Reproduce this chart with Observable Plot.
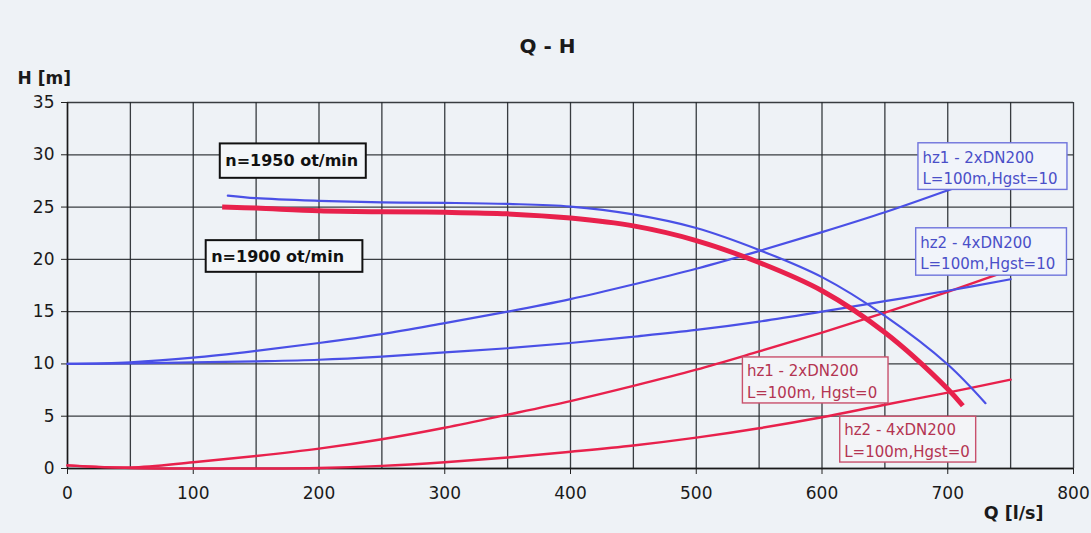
<!DOCTYPE html>
<html>
<head>
<meta charset="utf-8">
<script src="https://cdn.jsdelivr.net/npm/d3@7"></script>
<script src="https://cdn.jsdelivr.net/npm/@observablehq/plot@0.6"></script>
<style>
  html, body { margin: 0; padding: 0; background: #eef2f6; }
  #wrap { position: relative; width: 1091px; height: 533px; overflow: hidden; }
  #scanline { position: absolute; left: 0; top: 4px; width: 960px; height: 2px;
    background: linear-gradient(to right, #4a4a4a, #5a5a5a 70%, rgba(90,90,90,0)); }
</style>
</head>
<body>
<div id="wrap"><div id="scanline"></div></div>
<script>
// ---- data ----
const title = "Q - H";
const xLabel = "Q [l/s]";
const yLabel = "H [m]";
const xTicks = [0, 100, 200, 300, 400, 500, 600, 700, 800];
const yTicks = [0, 5, 10, 15, 20, 25, 30, 35];
const xGrid = [0, 50, 100, 150, 200, 250, 300, 350, 400, 450, 500, 550, 600, 650, 700, 750, 800];

// pump curve n=1950 (blue)
const q1950 = [127.5, 150, 200, 250, 300, 350, 400, 450, 500, 550, 600, 650, 700, 730];
const h1950 = [26.1, 25.85, 25.6, 25.45, 25.4, 25.3, 25.05, 24.3, 23.0, 20.9, 18.3, 14.6, 9.95, 6.25];
// pump curve n=1900 (red, thick)
const q1900 = [123, 150, 200, 250, 300, 350, 400, 450, 500, 550, 600, 650, 700, 712];
const h1900 = [25.0, 24.9, 24.65, 24.55, 24.5, 24.35, 23.95, 23.2, 21.8, 19.7, 17.0, 13.0, 7.6, 6.0];
// system curves
const qSys = [0, 50, 100, 150, 200, 250, 300, 350, 400, 450, 500, 550, 600, 650, 700, 750];
const hHz1Hg10 = [10.0, 10.16, 10.6, 11.25, 12.0, 12.85, 13.9, 15.0, 16.2, 17.6, 19.1, 20.8, 22.6, 24.5, 26.6, 28.8];
const hHz2Hg10 = [10.0, 10.05, 10.15, 10.25, 10.4, 10.7, 11.1, 11.5, 12.0, 12.6, 13.25, 14.05, 15.0, 16.0, 17.0, 18.1];
const hHz1Hg0  = [0.3, 0.1, 0.6, 1.2, 1.9, 2.8, 3.9, 5.15, 6.45, 7.9, 9.45, 11.2, 13.0, 14.9, 16.9, 19.0];
const hHz2Hg0  = [0.3, 0.05, 0.0, 0.0, 0.05, 0.25, 0.6, 1.05, 1.6, 2.2, 2.95, 3.85, 4.9, 6.1, 7.25, 8.5];

// annotation boxes (data units: Q left/right, H top/bottom)
const noteText  = ["n=1950 ot/min", "n=1900 ot/min",
                   "hz1 - 2xDN200\nL=100m,Hgst=10", "hz2 - 4xDN200\nL=100m,Hgst=10",
                   "hz1 - 2xDN200\nL=100m, Hgst=0", "hz2 - 4xDN200\nL=100m,Hgst=0"];
const noteGroup = ["n", "n", "blue", "blue", "red", "red"];
const noteQ1 = [121.5, 110.3, 676.7, 674.9, 537.1, 614.5];
const noteQ2 = [237.6, 234.9, 795.2, 794.8, 652.9, 722.6];
const noteHtop = [31.04, 21.79, 31.1, 22.97, 10.62, 4.95];
const noteHbot = [27.75, 18.76, 26.64, 18.44, 6.22, 0.57];

// ---- build tables ----
const BLUE = "#4a50e6", RED = "#e8214c";
const toRows = (qs, hs, id) => qs.map((q, i) => ({Q: q, H: hs[i], id}));
const thin = [
  ...toRows(qSys, hHz1Hg0, "hz1-0"),
  ...toRows(qSys, hHz2Hg0, "hz2-0")
];
const blue = [
  ...toRows(qSys, hHz1Hg10, "hz1-10"),
  ...toRows(qSys, hHz2Hg10, "hz2-10"),
  ...toRows(q1950, h1950, "n1950")
];
const pump1900 = toRows(q1900, h1900, "n1900");
const notes = noteText.map((t, i) => ({
  text: t, g: noteGroup[i], x1: noteQ1[i], x2: noteQ2[i], y1: noteHbot[i], y2: noteHtop[i]
}));
const nNotes = notes.filter(d => d.g === "n");
const bNotes = notes.filter(d => d.g === "blue");
const rNotes = notes.filter(d => d.g === "red");

const chart = Plot.plot({
  width: 1091,
  height: 533,
  marginLeft: 67,
  marginRight: 18,
  marginTop: 102,
  marginBottom: 65,
  style: {background: "#eef2f6", fontFamily: "DejaVu Sans, sans-serif", color: "#1a1a1a"},
  x: {domain: [0, 800]},
  y: {domain: [0, 35]},
  marks: [
    Plot.gridX(xGrid, {stroke: "#23282c", strokeOpacity: 0.9, strokeWidth: 1.3}),
    Plot.gridY(yTicks, {stroke: "#23282c", strokeOpacity: 0.9, strokeWidth: 1.3}),
    Plot.axisY(yTicks, {tickSize: 6, tickPadding: 7, fontSize: 17, label: null, stroke: "#222"}),
    Plot.axisX(xTicks, {tickSize: 6, tickPadding: 12, fontSize: 17, label: null, stroke: "#222"}),
    Plot.ruleX([0], {stroke: "#1a1a1a", strokeWidth: 1.5}),
    Plot.ruleY([0], {stroke: "#1a1a1a", strokeWidth: 1.5}),
    Plot.line(thin, {x: "Q", y: "H", z: "id", stroke: RED, strokeWidth: 2.4, curve: "catmull-rom"}),
    Plot.line(blue, {x: "Q", y: "H", z: "id", stroke: BLUE, strokeWidth: 2.2, curve: "catmull-rom"}),
    Plot.line(pump1900, {x: "Q", y: "H", stroke: RED, strokeWidth: 5, curve: "catmull-rom", strokeLinecap: "butt"}),
    // annotation boxes
    Plot.rect(nNotes, {x1: "x1", x2: "x2", y1: "y1", y2: "y2", fill: "#f3f6f9", stroke: "#111", strokeWidth: 2}),
    Plot.rect(bNotes, {x1: "x1", x2: "x2", y1: "y1", y2: "y2", fill: "#f1f4fa", stroke: "#6f74dc", strokeWidth: 1.4}),
    Plot.rect(rNotes, {x1: "x1", x2: "x2", y1: "y1", y2: "y2", fill: "#f3f4f7", stroke: "#c9506c", strokeWidth: 1.4}),
    Plot.text(nNotes, {x: "x1", y: d => (d.y1 + d.y2) / 2, text: "text", textAnchor: "start", dx: 5,
      fontSize: 16, fontWeight: "bold", fill: "#111"}),
    Plot.text(bNotes, {x: "x1", y: "y2", text: "text", textAnchor: "start", lineAnchor: "top", dx: 4, dy: 4,
      fontSize: 15, lineHeight: 1.45, fill: "#4a4fc8"}),
    Plot.text(rNotes, {x: "x1", y: "y2", text: "text", textAnchor: "start", lineAnchor: "top", dx: 4, dy: 3,
      fontSize: 15, lineHeight: 1.45, fill: "#b43452"}),
    // titles
    Plot.text([title], {frameAnchor: "top-left", dx: 480, dy: -64, textAnchor: "middle",
      fontSize: 20, fontWeight: "bold", fill: "#1a1a1a"}),
    Plot.text([yLabel], {frameAnchor: "top-left", dx: -50, dy: -31, textAnchor: "start",
      fontSize: 17, fontWeight: "bold", fill: "#1a1a1a"}),
    Plot.text([xLabel], {frameAnchor: "bottom-right", dx: -30, dy: 50, textAnchor: "end",
      fontSize: 17.5, fontWeight: "bold", fill: "#1a1a1a"})
  ]
});
document.getElementById("wrap").appendChild(chart);
chart.style.position = "absolute";
chart.style.left = "0";
chart.style.top = "0";
</script>
</body>
</html>
